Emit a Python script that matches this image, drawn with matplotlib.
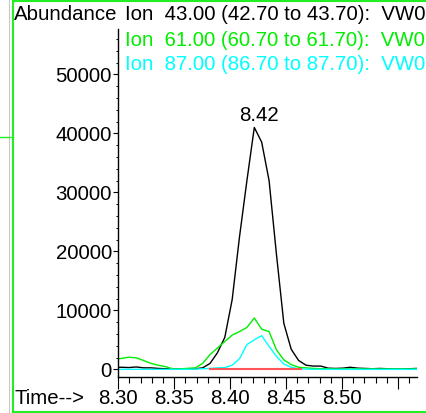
import matplotlib
matplotlib.use("Agg")
import matplotlib.pyplot as plt
from matplotlib.ticker import MultipleLocator, FixedLocator
import numpy as np

plt.rcParams['font.family'] = ['Liberation Sans', 'DejaVu Sans']

# ---- data ----
time = [8.2962, 8.3028, 8.3094, 8.3160, 8.3226, 8.3292, 8.3358, 8.3424, 8.3490, 8.3556,
        8.3622, 8.3688, 8.3754, 8.3820, 8.3886, 8.3952, 8.4018, 8.4084, 8.4150, 8.4216,
        8.4282, 8.4348, 8.4414, 8.4480, 8.4546, 8.4612, 8.4678, 8.4744, 8.4810, 8.4876,
        8.4942, 8.5008, 8.5074, 8.5140, 8.5206, 8.5272, 8.5338, 8.5404, 8.5470, 8.5536,
        8.5602, 8.5668]
ion43 = [300, 350, 300, 400, 250, 250, 150, 100, 50, 50,
         100, 100, 250, 1000, 2800, 5400, 11800, 22500, 32000, 41000,
         38500, 32000, 19500, 7800, 3400, 1500, 700, 550, 550, 200,
         150, 200, 350, 200, 150, 100, 150, 100, 100, 50,
         100, 150]
ion61 = [1650, 1850, 2050, 1950, 1500, 1000, 700, 450, 50, 80,
         170, 250, 1000, 2500, 3600, 4700, 5800, 6400, 7100, 8700,
         6800, 6400, 3300, 1600, 800, 350, 250, 150, 100, 100,
         50, 80, 50, 100, 50, 80, 50, 50, 80, 50,
         50, 80]
ion87 = [0, 0, 0, 0, 0, 0, 0, 0, 0, 0,
         0, 50, 100, 150, 250, 300, 700, 1800, 4200, 5000,
         5700, 3900, 2200, 900, 350, 100, 50, 0, 0, 0,
         0, 0, 0, 0, 0, 0, 0, 0, 0, 0,
         0, 0]
base_time = [8.382, 8.463]
base_val = [0, 0]

header = ["Ion  43.00 (42.70 to 43.70):  VW0912.D\\data.ms",
          "Ion  61.00 (60.70 to 61.70):  VW0912.D\\data.ms",
          "Ion  87.00 (86.70 to 87.70):  VW0912.D\\data.ms"]
header_colors = ["#000000", "#00ee00", "#00ffff"]
peak_label = "8.42"
xticks = [8.30, 8.35, 8.40, 8.45, 8.50]
yticks = [0, 10000, 20000, 30000, 40000, 50000]

W, H = 426, 413
FS = 14.7
fig = plt.figure(figsize=(W / 100, H / 100), dpi=100)

fig.add_artist(plt.Line2D([9 / W, 9 / W], [0, 1], color="#c8c8c8", lw=0.8, transform=fig.transFigure))
fig.add_artist(plt.Line2D([12.5 / W, 12.5 / W], [0, 1], color="#22ee22", lw=1.5, transform=fig.transFigure))
fig.add_artist(plt.Line2D([12.5 / W, 1], [1 - 1.0 / H, 1 - 1.0 / H], color="#22ee22", lw=1.5, transform=fig.transFigure))
fig.add_artist(plt.Line2D([12.5 / W, 1], [1 - 411.5 / H, 1 - 411.5 / H], color="#22ee22", lw=1.5, transform=fig.transFigure))
fig.add_artist(plt.Line2D([0, 12.5 / W], [1 - 137 / H, 1 - 137 / H], color="#22ee22", lw=1.0, transform=fig.transFigure))

ax = fig.add_axes([118.3 / W, 1 - 376.7 / H, (416.7 - 118.3) / W, (376.7 - 29) / H])
ax.set_facecolor("none")

ax.plot(time, ion43, color="#000000", lw=1.0)
ax.plot(time, ion61, color="#00ee00", lw=1.0)
ax.plot(time, ion87, color="#00ffff", lw=1.0)
ax.plot(base_time, base_val, color="#ff5555", lw=1.5)

ax.set_xlim(8.30, 8.5668)
ax.set_ylim(-1250, 57680)

for s in ["top", "right"]:
    ax.spines[s].set_visible(False)
for s in ["left", "bottom"]:
    ax.spines[s].set_linewidth(1.0)

ax.xaxis.set_major_locator(FixedLocator([8.30, 8.35, 8.40, 8.45, 8.50, 8.55]))
ax.xaxis.set_minor_locator(MultipleLocator(0.01))
ax.set_xticklabels([f"{v:.2f}" for v in xticks] + [""])
ax.yaxis.set_major_locator(FixedLocator(yticks))
ax.yaxis.set_minor_locator(MultipleLocator(2000))
ax.set_yticklabels([str(v) for v in yticks])

ax.tick_params(axis="x", which="major", direction="out", length=8.6, width=0.8, labelsize=FS, pad=0)
ax.tick_params(axis="x", which="minor", direction="out", length=4.3, width=0.8)
ax.tick_params(axis="y", which="major", direction="out", length=3.6, width=0.8, labelsize=FS, pad=1)
ax.tick_params(axis="y", which="minor", direction="out", length=1.5, width=0.7)

pk = int(np.argmax(ion43))
ax.annotate(peak_label, (time[pk], ion43[pk]), xytext=(3, 2), textcoords="offset points",
            ha="center", va="bottom", fontsize=FS)

fig.text(14 / W, 1 - 15 / H, "Abundance", ha="left", va="center", fontsize=FS)
for i, (t, c) in enumerate(zip(header, header_colors)):
    fig.text(125 / W, 1 - (15 + 25 * i) / H, t, ha="left", va="center", fontsize=FS, color=c)
fig.text(14 / W, 1 - 398 / H, "Time-->", ha="left", va="center", fontsize=FS)

fig.savefig("out.png", dpi=100)
